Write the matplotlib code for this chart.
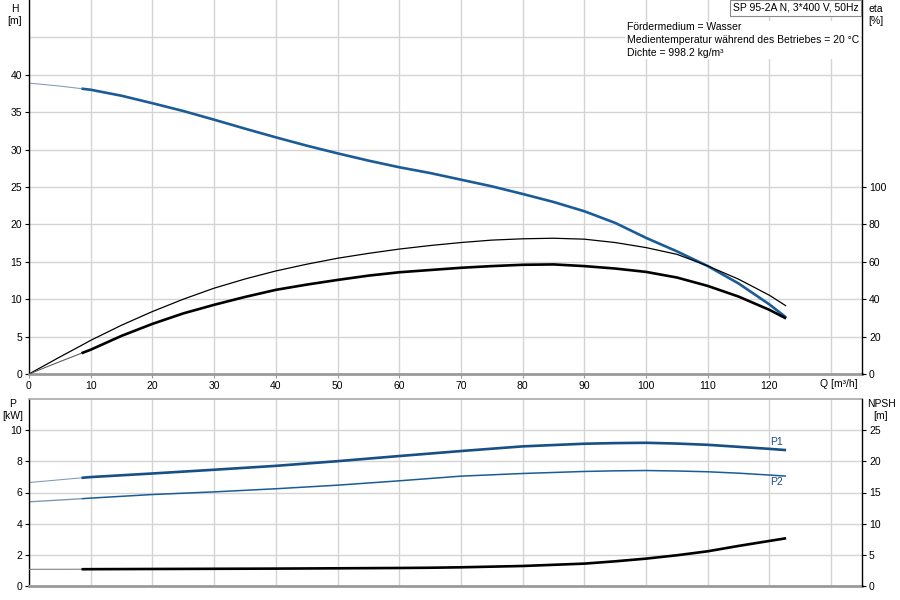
import matplotlib
matplotlib.use("Agg")
import matplotlib.pyplot as plt
import matplotlib.transforms as mtransforms

plt.rcParams['font.family'] = ['Liberation Sans', 'DejaVu Sans']

# ---------------- data ----------------
q_top = [0, 5, 8.5, 10, 15, 20, 25, 30, 35, 40, 45, 50, 55, 60, 65, 70, 75, 80,
         85, 90, 95, 100, 105, 110, 115, 120, 122.7]
head = [38.89, 38.49, 38.15, 38.0, 37.2, 36.2, 35.16, 34.0, 32.8, 31.64, 30.53,
        29.5, 28.53, 27.64, 26.87, 25.98, 25.09, 24.07, 23.0, 21.76, 20.2, 18.2,
        16.4, 14.43, 12.1, 9.3, 7.56]
eta_pump = [0, 9.1, 15.3, 18.0, 26.1, 33.4, 40.0, 45.9, 50.8, 55.1, 58.7, 61.9,
            64.5, 66.8, 68.7, 70.3, 71.6, 72.3, 72.6, 72.1, 70.3, 67.6, 64.0,
            57.8, 50.7, 42.1, 36.4]
eta_total = [0, 6.6, 11.1, 13.0, 20.4, 26.8, 32.4, 37.0, 41.2, 45.0, 47.8, 50.3,
             52.6, 54.4, 55.6, 56.8, 57.7, 58.4, 58.6, 57.7, 56.4, 54.6, 51.6,
             47.1, 41.4, 34.3, 29.7]

q_bot = [0, 8.5, 10, 20, 30, 40, 50, 60, 65, 70, 80, 90, 95, 100, 105, 110, 115,
         120, 122.7]
p1 = [6.64, 6.94, 6.99, 7.22, 7.46, 7.71, 8.01, 8.34, 8.5, 8.66, 8.96, 9.13, 9.17,
      9.19, 9.14, 9.06, 8.93, 8.80, 8.72]
p2 = [5.40, 5.60, 5.64, 5.87, 6.04, 6.24, 6.47, 6.75, 6.90, 7.05, 7.22, 7.35, 7.39,
      7.41, 7.38, 7.33, 7.24, 7.12, 7.05]
npsh = [2.68, 2.69, 2.70, 2.73, 2.76, 2.79, 2.84, 2.89, 2.93, 3.0, 3.21, 3.59,
        3.96, 4.39, 4.93, 5.57, 6.43, 7.23, 7.66]

q_duty_start = 8.5

x_ticks = [0, 10, 20, 30, 40, 50, 60, 70, 80, 90, 100, 110, 120]
x_grid_extra = [130]
x_axis_title = 'Q [m³/h]'
h_ticks = [0, 5, 10, 15, 20, 25, 30, 35, 40]
h_grid_extra = [45]
eta_ticks = [0, 20, 40, 60, 80, 100]
p_ticks = [0, 2, 4, 6, 8, 10]
npsh_ticks = [0, 5, 10, 15, 20, 25]

title_box = 'SP 95-2A N, 3*400 V, 50Hz'
info_text = ('Fördermedium = Wasser\n'
             'Medientemperatur während des Betriebes = 20 °C\n'
             'Dichte = 998.2 kg/m³')

# ---------------- style ----------------
BLUE = '#1b5b98'
DBLUE = '#174f87'
GRID = '#d4d4d4'
FS = 7.5
THICK = 1.9
THIN = 0.75

W, H = 900, 600
fig = plt.figure(figsize=(9, 6), dpi=100)

L, R = 29, 862
ax1 = fig.add_axes([L / W, 1 - 374 / H, (R - L) / W, 374 / H])
ax2 = fig.add_axes([L / W, 1 - 586 / H, (R - L) / W, 187 / H])

for ax in (ax1, ax2):
    ax.set_xlim(0, 135)
    ax.set_xticks(x_ticks)
    ax.set_xticks(x_grid_extra, minor=True)
    ax.grid(True, which='both', color=GRID, lw=1.0)
    ax.set_axisbelow(True)
    ax.spines['left'].set_color('black')
    ax.spines['left'].set_linewidth(1.0)
    ax.spines['right'].set_visible(False)
    ax.spines['bottom'].set_color('#9a9a9a')
    ax.spines['bottom'].set_linewidth(2.0)
    ax.tick_params(axis='both', which='major', direction='out', length=3,
                   width=0.8, labelsize=FS, pad=2, colors='black')
    ax.tick_params(axis='both', which='minor', length=0)
    ax.tick_params(axis='x', which='major', color='#9a9a9a')

ax1.set_ylim(0, 50)
ax1.set_yticks(h_ticks)
ax1.set_yticks(h_grid_extra, minor=True)
ax1.spines['top'].set_visible(False)
ax1.text(131.2, -0.0135, x_axis_title,
         transform=mtransforms.blended_transform_factory(ax1.transData,
                                                         ax1.transAxes),
         ha='center', va='top', fontsize=FS)

ax2.set_ylim(0, 12)
ax2.set_yticks(p_ticks)
ax2.tick_params(axis='x', which='major', labelbottom=False, length=0)
ax2.spines['top'].set_color('#a8a8a8')
ax2.spines['top'].set_linewidth(1.2)

ax1r = ax1.twinx()
ax1r.set_ylim(0, 200)
ax1r.set_yticks(eta_ticks)
ax2r = ax2.twinx()
ax2r.set_ylim(0, 30)
ax2r.set_yticks(npsh_ticks)
for axr in (ax1r, ax2r):
    for s in ('top', 'left', 'bottom'):
        axr.spines[s].set_visible(False)
    axr.spines['right'].set_color('black')
    axr.spines['right'].set_linewidth(1.0)
    axr.tick_params(axis='y', direction='out', length=3, width=0.8,
                    labelsize=FS, pad=2)

i_top = q_top.index(q_duty_start)
i_bot = q_bot.index(q_duty_start)

# ---------------- top: H and eta ----------------
ax1.plot(q_top[:i_top + 1], head[:i_top + 1], color='#7f9ab5', lw=THIN,
         solid_capstyle='butt')
ax1.plot(q_top[i_top:], head[i_top:], color=BLUE, lw=THICK,
         solid_capstyle='butt')

ax1r.plot(q_top, eta_pump, color='black', lw=0.9, solid_capstyle='butt')
ax1r.plot(q_top[:i_top + 1], eta_total[:i_top + 1], color='#555555', lw=THIN,
          solid_capstyle='butt')
ax1r.plot(q_top[i_top:], eta_total[i_top:], color='black', lw=THICK,
          solid_capstyle='butt')

# ---------------- bottom: P1, P2, NPSH ----------------
ax2.plot(q_bot[:i_bot + 1], p1[:i_bot + 1], color='#7f9ab5', lw=THIN,
         solid_capstyle='butt')
ax2.plot(q_bot[i_bot:], p1[i_bot:], color=DBLUE, lw=THICK,
         solid_capstyle='butt')
ax2.plot(q_bot[:i_bot + 1], p2[:i_bot + 1], color='#7f9ab5', lw=1.0,
         solid_capstyle='butt')
ax2.plot(q_bot[i_bot:], p2[i_bot:], color=BLUE, lw=1.1,
         solid_capstyle='butt')

ax2r.plot(q_bot[:i_bot + 1], npsh[:i_bot + 1], color='#777777', lw=THIN,
          solid_capstyle='butt')
ax2r.plot(q_bot[i_bot:], npsh[i_bot:], color='black', lw=THICK,
          solid_capstyle='butt')

ax2.annotate('P1', xy=(q_bot[-1], p1[-1]), xytext=(-7, 5.5),
             textcoords='offset points', ha='center', va='center',
             fontsize=FS, color=DBLUE)
ax2.annotate('P2', xy=(q_bot[-1], p2[-1]), xytext=(-7, -4.5),
             textcoords='offset points', ha='center', va='center',
             fontsize=FS, color=DBLUE)

# ---------------- axis titles and annotations ----------------
fig.text(15 / W, 1 - 4 / H, 'H\n[m]', ha='center', va='top', fontsize=FS,
         linespacing=1.2)
fig.text(13 / W, 1 - 399 / H, 'P\n[kW]', ha='center', va='top', fontsize=FS,
         linespacing=1.2)
fig.text(876 / W, 1 - 4 / H, 'eta\n[%]', ha='center', va='top', fontsize=FS,
         linespacing=1.2)
fig.text(881 / W, 1 - 399 / H, 'NPSH\n[m]', ha='center', va='top', fontsize=FS,
         linespacing=1.2)

fig.text(733 / W, 1 - 8 / H, title_box, ha='left', va='center', fontsize=FS,
         bbox=dict(boxstyle='square,pad=0.25', facecolor='white',
                   edgecolor='#8a8a8a', linewidth=0.8), zorder=10)
fig.text(627 / W, 1 - 40 / H, info_text, ha='left', va='center', fontsize=FS,
         linespacing=1.35,
         bbox=dict(boxstyle='square,pad=0.15', facecolor='white',
                   edgecolor='none'), zorder=10)

fig.savefig('out.png', dpi=100)
